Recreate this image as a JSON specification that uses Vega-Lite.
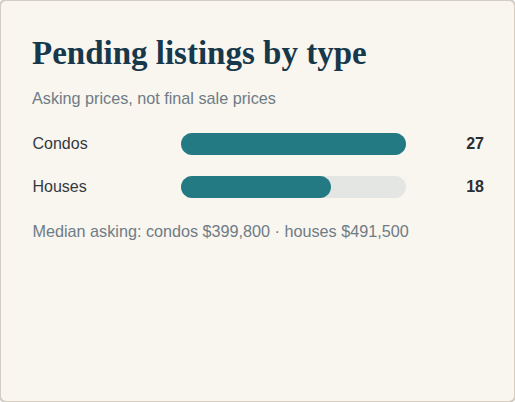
{
  "$schema": "https://vega.github.io/schema/vega-lite/v6.json",
  "width": 515,
  "height": 402,
  "padding": 0,
  "autosize": {"type": "none"},
  "background": "#ffffff",
  "config": {
    "view": {"fill": "#f9f5ef", "stroke": "#d3cdc4", "strokeWidth": 2, "cornerRadius": 6}
  },
  "title": {
    "text": "Pending listings by type",
    "subtitle": "Asking prices, not final sale prices",
    "anchor": "start",
    "orient": "top",
    "dx": 32,
    "offset": -107,
    "font": "Liberation Serif",
    "fontSize": 33,
    "fontWeight": "bold",
    "color": "#17384b",
    "subtitleFont": "Liberation Sans",
    "subtitleFontSize": 16.2,
    "subtitleColor": "#6e7c86",
    "subtitlePadding": 20
  },
  "data": {
    "values": [
      {"type": "Condos", "listings": 27, "track": 27},
      {"type": "Houses", "listings": 18, "track": 27}
    ]
  },
  "encoding": {
    "y": {
      "field": "type",
      "type": "nominal",
      "sort": ["Condos", "Houses"],
      "scale": {"range": [122.5, 208.5], "paddingInner": 0, "paddingOuter": 0},
      "axis": {
        "title": null,
        "orient": "left",
        "offset": -32,
        "domain": false,
        "ticks": false,
        "tickSize": 0,
        "labelPadding": 0,
        "labelAlign": "left",
        "labelFont": "Liberation Sans",
        "labelFontSize": 16,
        "labelColor": "#333a3f"
      }
    }
  },
  "layer": [
    {
      "mark": {"type": "bar", "height": 22, "cornerRadius": 11, "color": "#e3e6e3"},
      "encoding": {
        "x": {
          "field": "track",
          "type": "quantitative",
          "scale": {"domain": [0, 27], "range": [181, 406], "nice": false, "zero": true},
          "axis": {
            "title": "Median asking: condos $399,800 · houses $491,500",
            "orient": "bottom",
            "domain": false,
            "ticks": false,
            "labels": false,
            "grid": false,
            "titleAnchor": "start",
            "titleAlign": "left",
            "titleBaseline": "alphabetic",
            "titleX": 32,
            "titleY": -166,
            "titleFont": "Liberation Sans",
            "titleFontSize": 16.2,
            "titleFontWeight": "normal",
            "titleColor": "#6e7c86"
          }
        }
      }
    },
    {
      "mark": {"type": "bar", "height": 22, "cornerRadius": 11, "color": "#237a82"},
      "encoding": {
        "x": {"field": "listings", "type": "quantitative"}
      }
    },
    {
      "mark": {"type": "text", "align": "right", "baseline": "middle", "dx": 78, "font": "Liberation Sans", "fontSize": 16, "fontWeight": "bold", "color": "#2a2f33"},
      "encoding": {
        "x": {"field": "track", "type": "quantitative"},
        "text": {"field": "listings", "type": "quantitative"}
      }
    }
  ]
}
